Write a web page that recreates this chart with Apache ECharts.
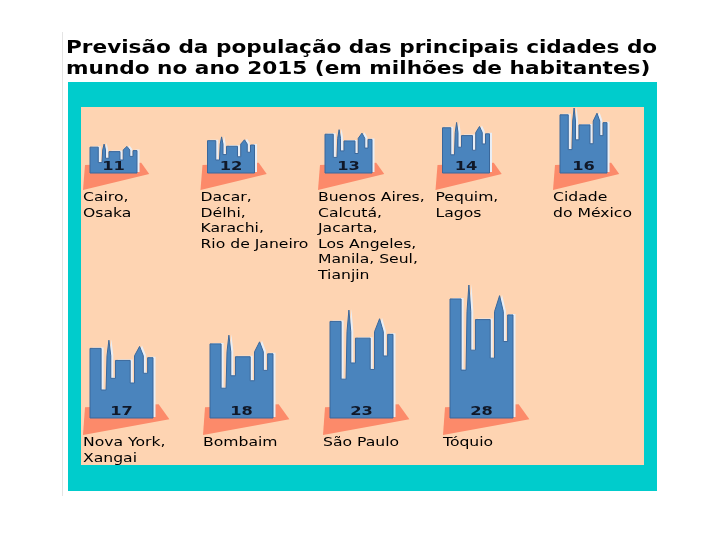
<!DOCTYPE html>
<html>
<head>
<meta charset="utf-8">
<script src="https://cdn.jsdelivr.net/npm/echarts@6/dist/echarts.min.js"></script>
<style>html,body{margin:0;padding:0;background:#fff}#main{width:720px;height:540px}</style>
</head>
<body>
<div id="main"></div>
<script>
var titleLines = [
  "Previsão da população das principais cidades do",
  "mundo no ano 2015 (em milhões de habitantes)"
];

var row1Cities = [
  ["Cairo,", "Osaka"],
  ["Dacar,", "Délhi,", "Karachi,", "Rio de Janeiro"],
  ["Buenos Aires,", "Calcutá,", "Jacarta,", "Los Angeles,", "Manila, Seul,", "Tianjin"],
  ["Pequim,", "Lagos"],
  ["Cidade", "do México"]
];
var row1Values = [11, 12, 13, 14, 16];

var row2Cities = [
  ["Nova York,", "Xangai"],
  ["Bombaim"],
  ["São Paulo"],
  ["Tóquio"]
];
var row2Values = [17, 18, 23, 28];

// skyline outline: x 0..1 across the block, y 0..1 up from the street
var skyline = [
  [0, 0], [0, 0.895], [0.176, 0.895], [0.176, 0.36], [0.255, 0.36],
  [0.27, 0.8], [0.3, 1], [0.33, 0.8], [0.33, 0.51], [0.404, 0.51],
  [0.404, 0.74], [0.638, 0.74], [0.638, 0.45], [0.707, 0.45], [0.707, 0.8],
  [0.787, 0.92], [0.846, 0.8], [0.846, 0.575], [0.915, 0.575], [0.915, 0.775],
  [1, 0.775], [1, 0]
];

function cityRenderer(cities, widthRatio) {
  return function (params, api) {
    var i = api.value(0);
    var top = api.coord([i, api.value(1)]);
    var cs = params.coordSys;
    var bottom = cs.y + cs.height;
    var w = api.size([1, 0])[0] * widthRatio;
    var left = top[0] - w / 2;
    var h = bottom - top[1];
    var pts = skyline.map(function (p) { return [left + p[0] * w, bottom - p[1] * h]; });
    var glow = pts.map(function (p) { return [p[0] + 2.5, p[1] - 1]; });
    var base = [
      [left - 5, bottom - 0.17 * w],
      [left + 1.09 * w, bottom - 0.22 * w],
      [left + 1.26 * w, bottom + 0.02 * w],
      [left - 7, bottom + 17]
    ];
    return {
      type: "group",
      children: [
        { type: "polygon", shape: { points: base }, style: { fill: "#fc8a6a" } },
        { type: "polygon", shape: { points: glow }, style: { fill: "#e8eef6" } },
        { type: "polygon", shape: { points: pts }, style: { fill: "#4a84bd", stroke: "#3a679a", lineWidth: 1 } },
        {
          type: "text", x: top[0], y: bottom - 6, scaleX: 1.25,
          style: { text: String(api.value(1)), fill: "#101828", fontSize: 13, fontWeight: "bold",
            fontFamily: "DejaVu Sans", align: "center", verticalAlign: "middle" }
        },
        {
          type: "text", x: left - 7, y: bottom + 17, scaleX: 1.25,
          style: { text: cities[i].join("\n"), fill: "#000", fontSize: 12.5, fontFamily: "DejaVu Sans",
            lineHeight: 15.6, align: "left", verticalAlign: "top" }
        }
      ]
    };
  };
}

var chartDom = document.getElementById("main");
var myChart = echarts.init(chartDom);
var option;
option = {
  animation: false,
  backgroundColor: "#fff",
  graphic: [
    { type: "line", shape: { x1: 62.5, y1: 32, x2: 62.5, y2: 496 }, style: { stroke: "#e4e4e4", lineWidth: 1 }, z: -5 },
    { type: "rect", shape: { x: 68, y: 82, width: 589, height: 409 }, style: { fill: "#00cccc" }, z: -4 },
    { type: "rect", shape: { x: 81, y: 107, width: 563, height: 358 }, style: { fill: "#fed4b2" }, z: -3 },
    {
      type: "text", x: 66, y: 38, scaleX: 1.2,
      style: { text: titleLines.join("\n"), fill: "#000", fontSize: 18, fontWeight: "bold",
        fontFamily: "DejaVu Sans", lineHeight: 21, align: "left", verticalAlign: "top" }
    }
  ],
  grid: [
    { left: 54.75, right: 77.75, top: 108, height: 65 },
    { left: 61.5, right: 178.5, top: 285, height: 133 }
  ],
  xAxis: [
    { type: "category", gridIndex: 0, show: false, data: row1Cities.map(function (c) { return c.join(" "); }) },
    { type: "category", gridIndex: 1, show: false, data: row2Cities.map(function (c) { return c.join(" "); }) }
  ],
  yAxis: [
    { type: "value", gridIndex: 0, show: false, min: 7, max: 16 },
    { type: "value", gridIndex: 1, show: false, min: 1.5, max: 28 }
  ],
  series: [
    {
      type: "custom", xAxisIndex: 0, yAxisIndex: 0,
      renderItem: cityRenderer(row1Cities, 0.4),
      data: row1Values.map(function (v, i) { return [i, v]; })
    },
    {
      type: "custom", xAxisIndex: 1, yAxisIndex: 1,
      renderItem: cityRenderer(row2Cities, 0.525),
      data: row2Values.map(function (v, i) { return [i, v]; })
    }
  ]
};

option && myChart.setOption(option);
</script>
</body>
</html>
